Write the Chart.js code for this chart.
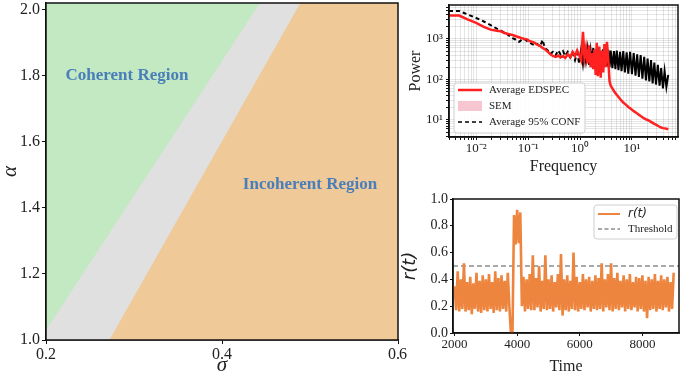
<!DOCTYPE html>
<html>
<head>
<meta charset="utf-8">
<script src="https://cdn.jsdelivr.net/npm/chart.js@4.4.1/dist/chart.umd.min.js"></script>
<style>
  html, body { margin: 0; padding: 0; background: #fff; }
  #wrap { position: relative; width: 685px; height: 380px; overflow: hidden; }
  canvas { position: absolute; }
  #regime { left: 0; top: 0; }
  #spectrum { left: 400px; top: 0; }
  #order { left: 400px; top: 180px; }
  .stray { position: absolute; left: 399px; top: 345px; font: 16px 'Liberation Serif', serif; color: #222; }
</style>
</head>
<body>
<div id="wrap">
  <canvas id="regime" width="400" height="380"></canvas>
  <canvas id="spectrum" width="285" height="180"></canvas>
  <canvas id="order" width="285" height="200"></canvas>
  <div class="stray">6</div>
</div>
<script>
// ---- phase diagram (left) ----
const sigmaTicks = [0.2, 0.4, 0.6];
const alphaTicks = [1.0, 1.2, 1.4, 1.6, 1.8, 2.0];
const sigmaRange = [0.2, 0.6];
const alphaRange = [1.0, 2.02];
const coherentEdgeSigma = [0.2, 0.443];
const coherentEdgeAlpha = [1.03, 2.02];
const incoherentEdgeSigma = [0.272, 0.489];
const incoherentEdgeAlpha = [1.0, 2.02];
const regionNames = ["Coherent Region", "Incoherent Region"];
const regionSigma = [0.292, 0.5];
const regionAlpha = [1.8, 1.47];

// ---- power spectrum (top right) ----
const freq = [0.003, 0.0047, 0.007, 0.01, 0.014, 0.019, 0.025, 0.03, 0.035, 0.04,
  0.045, 0.05, 0.055, 0.06, 0.067, 0.075, 0.085, 0.095, 0.105, 0.12,
  0.135, 0.15, 0.17, 0.19, 0.21, 0.24, 0.27, 0.3, 0.34, 0.38,
  0.42, 0.47, 0.52, 0.58, 0.65, 0.72, 0.8, 0.88, 0.96, 1.05,
  1.14, 1.22, 1.3, 1.4, 1.5, 1.6, 1.7, 1.8, 1.9, 2.0,
  2.1, 2.2, 2.35, 2.5, 2.65, 2.8, 2.95, 3.1, 3.3, 3.5,
  3.7, 3.9, 4.2, 4.5, 4.8, 5.1, 5.5, 5.9, 6.3, 6.8,
  7.3, 7.9, 8.5, 9.2, 10, 10.8, 11.7, 12.6, 13.6, 14.7,
  15.9, 17.2, 18.6, 20, 21.6, 23.3, 25, 27, 29, 31.5,
  34, 36.5, 39.5, 42.5, 46, 50];
const edspec = [3800, 3800, 3000, 2500, 2000, 1700, 1600, 1550, 1400, 1350,
  1300, 1250, 1200, 1150, 1100, 1050, 1000, 980, 900, 850,
  800, 720, 680, 600, 560, 480, 420, 380, 360, 390,
  350, 380, 340, 420, 360, 480, 380, 520, 400, 300,
  1500, 350, 600, 250, 700, 200, 450, 180, 550, 130,
  800, 120, 650, 110, 500, 150, 750, 200, 850, 300,
  90, 70, 60, 52, 46, 42, 37, 33, 30, 27,
  25, 23, 21, 19.5, 18, 16.5, 15.5, 14.5, 13.5, 12.5,
  11.7, 11, 10.4, 10, 9.5, 9, 8.5, 8, 7.7, 7.2,
  6.8, 6.5, 6.3, 6.2, 6.1, 5.9];
const conf95 = [4900, 4900, 4000, 3300, 2700, 2200, 1800, 1600, 1450, 1300,
  1150, 1050, 1000, 900, 850, 950, 1000, 900, 820, 750,
  700, 750, 650, 950, 600, 520, 430, 480, 400, 520,
  420, 500, 380, 480, 350, 450, 300, 450, 260, 550,
  240, 500, 280, 580, 230, 520, 260, 600, 220, 540,
  250, 570, 230, 520, 220, 560, 240, 500, 210, 540,
  200, 520, 190, 500, 180, 520, 170, 480, 160, 500,
  150, 470, 140, 480, 135, 450, 125, 420, 115, 400,
  105, 360, 95, 330, 90, 300, 80, 260, 75, 230,
  70, 190, 60, 160, 65, 130];
const freqTicks = [0.01, 0.1, 1, 10];
const powerTicks = [10, 100, 1000];
const freqRange = [0.003, 77];
const powerRange = [3.8, 6900];

// ---- order parameter (bottom right) ----
const timeStart = 2000;
const timeStep = 50;
const rValues = [
  0.35, 0.17, 0.46, 0.16, 0.40, 0.18, 0.52, 0.16, 0.38, 0.17,
  0.42, 0.14, 0.37, 0.18, 0.45, 0.16, 0.39, 0.15, 0.43, 0.17,
  0.40, 0.16, 0.44, 0.18, 0.38, 0.15, 0.46, 0.17, 0.41, 0.16,
  0.43, 0.18, 0.39, 0.16, 0.45, 0.20, 0.00, 0.00, 0.88, 0.66,
  0.92, 0.67, 0.90, 0.20, 0.42, 0.16, 0.40, 0.18, 0.44, 0.17,
  0.58, 0.17, 0.41, 0.19, 0.50, 0.16, 0.39, 0.18, 0.58, 0.17,
  0.40, 0.18, 0.43, 0.16, 0.38, 0.19, 0.44, 0.17, 0.59, 0.13,
  0.40, 0.17, 0.43, 0.16, 0.39, 0.18, 0.60, 0.17, 0.42, 0.16,
  0.38, 0.18, 0.44, 0.17, 0.40, 0.19, 0.42, 0.16, 0.39, 0.18,
  0.43, 0.17, 0.41, 0.18, 0.52, 0.16, 0.40, 0.19, 0.44, 0.17,
  0.52, 0.16, 0.41, 0.18, 0.45, 0.17, 0.39, 0.19, 0.43, 0.16,
  0.40, 0.18, 0.44, 0.17, 0.38, 0.19, 0.42, 0.16, 0.41, 0.18,
  0.43, 0.16, 0.39, 0.11, 0.42, 0.17, 0.40, 0.18, 0.44, 0.16,
  0.39, 0.18, 0.43, 0.17, 0.40, 0.19, 0.42, 0.16, 0.38, 0.18,
  0.45];
const threshold = 0.5;
const timeTicks = [2000, 4000, 6000, 8000];
const rTicks = [0.0, 0.2, 0.4, 0.6, 0.8, 1.0];
const timeRange = [1950, 9170];

const SERIF = "'Liberation Serif', 'Times New Roman', serif";
const INK = "#222";

function pts(xs, ys) {
  return xs.map((x, i) => ({ x: x, y: ys[i] }));
}

// force an axis to a fixed thickness so the plot boxes line up with the figure
function fixedBox(size) {
  return function (scale) {
    if (scale.isHorizontal()) scale.height = size;
    else scale.width = size;
    scale.paddingLeft = 0;
    scale.paddingRight = 0;
    scale.paddingTop = 0;
    scale.paddingBottom = 0;
  };
}

function setTicks(values) {
  return function (scale) {
    scale.ticks = values.map((v) => ({ value: v }));
  };
}

// decade + minor ticks for the log axes
function logTicks(min, max) {
  return function (scale) {
    const out = [];
    for (let e = Math.floor(Math.log10(min)); e <= Math.ceil(Math.log10(max)); e++) {
      for (let m = 1; m <= 9; m++) {
        const v = m * Math.pow(10, e);
        if (v >= min && v <= max) out.push({ value: v, major: m === 1 });
      }
    }
    scale.ticks = out;
  };
}

const SUP = { "-": "\u207B", "0": "\u2070", "1": "\u00B9", "2": "\u00B2", "3": "\u00B3",
  "4": "\u2074", "5": "\u2075", "6": "\u2076", "7": "\u2077", "8": "\u2078", "9": "\u2079" };

function powLabel(majors) {
  return function (value) {
    const hit = majors.find((m) => Math.abs(m - value) / m < 1e-6);
    if (!hit) return "";
    const e = String(Math.round(Math.log10(hit)));
    return "10" + e.split("").map((c) => SUP[c]).join("");
  };
}

const framePlugin = {
  id: "frame",
  afterDatasetsDraw(chart) {
    const { ctx, chartArea: a } = chart;
    ctx.save();
    ctx.strokeStyle = "#111";
    ctx.lineWidth = 1.5;
    ctx.strokeRect(a.left, a.top, a.right - a.left, a.bottom - a.top);
    ctx.restore();
  },
};

function drawLegendBox(ctx, x, y, w, h) {
  ctx.save();
  ctx.fillStyle = "rgba(255,255,255,0.9)";
  ctx.strokeStyle = "#cfcfcf";
  ctx.lineWidth = 1;
  ctx.beginPath();
  ctx.roundRect(x, y, w, h, 3);
  ctx.fill();
  ctx.stroke();
  ctx.restore();
}

function sample(ctx, x0, x1, y, color, width, dash) {
  ctx.save();
  ctx.strokeStyle = color;
  ctx.lineWidth = width;
  ctx.setLineDash(dash || []);
  ctx.beginPath();
  ctx.moveTo(x0, y);
  ctx.lineTo(x1, y);
  ctx.stroke();
  ctx.restore();
}

// ================= left: phase diagram =================
const regionLabels = {
  id: "regionLabels",
  afterDatasetsDraw(chart) {
    const { ctx, scales } = chart;
    ctx.save();
    ctx.font = "bold 17px " + SERIF;
    ctx.fillStyle = "#4a7ebb";
    ctx.textAlign = "center";
    ctx.textBaseline = "middle";
    regionNames.forEach((name, i) => {
      ctx.fillText(name, scales.x.getPixelForValue(regionSigma[i]), scales.y.getPixelForValue(regionAlpha[i]));
    });
    ctx.restore();
  },
};

new Chart(document.getElementById("regime"), {
  type: "line",
  data: {
    datasets: [
      {
        label: "incoherent",
        data: pts(incoherentEdgeSigma.concat([sigmaRange[1]]), incoherentEdgeAlpha.concat([alphaRange[1]])),
        backgroundColor: "#efc998",
        borderColor: "rgba(0,0,0,0)",
        fill: "start",
      },
      {
        label: "transition",
        data: pts(coherentEdgeSigma.concat([sigmaRange[1]]), coherentEdgeAlpha.concat([alphaRange[1]])),
        backgroundColor: "#dfe0df",
        borderColor: "rgba(0,0,0,0)",
        fill: "start",
      },
      {
        label: "coherent",
        data: pts(sigmaRange, [alphaRange[1], alphaRange[1]]),
        backgroundColor: "#c2e9c1",
        borderColor: "rgba(0,0,0,0)",
        fill: "start",
      },
    ],
  },
  options: {
    responsive: false,
    animation: false,
    devicePixelRatio: 1,
    layout: { padding: { left: 0, right: 2, top: 3, bottom: 0 } },
    elements: { point: { radius: 0 }, line: { borderWidth: 0, tension: 0 } },
    plugins: { legend: { display: false }, tooltip: { enabled: false } },
    scales: {
      x: {
        type: "linear",
        min: sigmaRange[0],
        max: sigmaRange[1],
        afterBuildTicks: setTicks(sigmaTicks),
        afterFit: fixedBox(40),
        grid: { drawOnChartArea: false, tickLength: 4, tickColor: "#111" },
        border: { color: "#111", width: 1.5 },
        ticks: { color: INK, font: { family: SERIF, size: 16 }, padding: 1, maxRotation: 0,
          callback: (v) => v.toFixed(1) },
        title: { display: true, text: "\u03C3", color: INK, padding: { top: 0 },
          font: { family: SERIF, size: 21, style: "italic", lineHeight: 1 } },
      },
      y: {
        type: "linear",
        min: alphaRange[0],
        max: alphaRange[1],
        afterBuildTicks: setTicks(alphaTicks),
        afterFit: fixedBox(46),
        grid: { drawOnChartArea: false, tickLength: 4, tickColor: "#111" },
        border: { color: "#111", width: 1.5 },
        ticks: { color: INK, font: { family: SERIF, size: 16 }, padding: 2,
          callback: (v) => v.toFixed(1) },
        title: { display: true, text: "\u03B1", color: INK, padding: { top: 0 },
          font: { family: SERIF, size: 21, style: "italic", lineHeight: 1 } },
      },
    },
  },
  plugins: [regionLabels, framePlugin],
});

// ================= top right: power spectrum =================
const spectrumLegend = {
  id: "spectrumLegend",
  afterDraw(chart) {
    const ctx = chart.ctx;
    drawLegendBox(ctx, 54, 83, 131, 50);
    sample(ctx, 58, 82, 90, "#ff2020", 2.5);
    ctx.save();
    ctx.fillStyle = "rgba(235,130,150,0.45)";
    ctx.fillRect(58, 101, 24, 10);
    ctx.restore();
    sample(ctx, 58, 82, 122, "#000", 1.5, [4, 3]);
    ctx.save();
    ctx.font = "11px " + SERIF;
    ctx.fillStyle = INK;
    ctx.textBaseline = "middle";
    ctx.fillText("Average EDSPEC", 89, 90);
    ctx.fillText("SEM", 89, 106);
    ctx.fillText("Average 95% CONF", 89, 122);
    ctx.restore();
  },
};

const logGrid = { color: "rgba(0,0,0,0.1)", borderDash: [2, 2], tickLength: 3, tickColor: "#111" };

new Chart(document.getElementById("spectrum"), {
  type: "line",
  data: {
    datasets: [
      {
        label: "Average EDSPEC",
        data: pts(freq, edspec),
        borderColor: "#ff2020",
        borderWidth: 2.5,
      },
      {
        label: "Average 95% CONF",
        data: pts(freq, conf95),
        borderColor: "#000",
        borderWidth: 2,
        borderDash: [4, 3],
        // the dense high-frequency part reads as a solid black band
        segment: { borderDash: (c) => (c.p0.parsed.x >= 0.9 ? [] : undefined) },
      },
    ],
  },
  options: {
    responsive: false,
    animation: false,
    devicePixelRatio: 1,
    layout: { padding: { left: 0, right: 7, top: 5, bottom: 0 } },
    elements: { point: { radius: 0 }, line: { tension: 0 } },
    plugins: { legend: { display: false }, tooltip: { enabled: false } },
    scales: {
      x: {
        type: "logarithmic",
        min: freqRange[0],
        max: freqRange[1],
        afterBuildTicks: logTicks(freqRange[0], freqRange[1]),
        afterFit: fixedBox(43),
        grid: logGrid,
        border: { color: "#111", width: 1.5 },
        ticks: { color: INK, font: { family: SERIF, size: 13 }, padding: 1, maxRotation: 0,
          autoSkip: false, callback: powLabel(freqTicks) },
        title: { display: true, text: "Frequency", color: INK, padding: { top: 4 },
          font: { family: SERIF, size: 16 } },
      },
      y: {
        type: "logarithmic",
        min: powerRange[0],
        max: powerRange[1],
        afterBuildTicks: logTicks(powerRange[0], powerRange[1]),
        afterFit: fixedBox(49),
        grid: logGrid,
        border: { color: "#111", width: 1.5 },
        ticks: { color: INK, font: { family: SERIF, size: 13 }, padding: 3,
          autoSkip: false, callback: powLabel(powerTicks) },
        title: { display: true, text: "Power", color: INK, padding: { top: 6 },
          font: { family: SERIF, size: 16 } },
      },
    },
  },
  plugins: [framePlugin, spectrumLegend],
});

// ================= bottom right: order parameter =================
const orderLegend = {
  id: "orderLegend",
  afterDraw(chart) {
    const ctx = chart.ctx;
    drawLegendBox(ctx, 194, 25, 83, 34);
    sample(ctx, 198, 220, 34, "#ed853e", 2);
    sample(ctx, 198, 220, 49, "#555", 1.2, [4, 2.5]);
    ctx.save();
    ctx.fillStyle = INK;
    ctx.textBaseline = "middle";
    ctx.font = "italic 12px 'DejaVu Sans', sans-serif";
    ctx.fillText("r(t)", 228, 34);
    ctx.font = "11px " + SERIF;
    ctx.fillText("Threshold", 228, 49);
    ctx.restore();
  },
};

const timeAxis = rValues.map((_, i) => timeStart + i * timeStep);

new Chart(document.getElementById("order"), {
  type: "line",
  data: {
    datasets: [
      {
        label: "r(t)",
        data: pts(timeAxis, rValues),
        borderColor: "#ed853e",
        borderWidth: 2.6,
        borderJoinStyle: "miter",
      },
      {
        label: "Threshold",
        data: pts(timeRange, [threshold, threshold]),
        borderColor: "#555",
        borderWidth: 1.2,
        borderDash: [5, 3],
      },
    ],
  },
  options: {
    responsive: false,
    animation: false,
    devicePixelRatio: 1,
    layout: { padding: { left: 0, right: 6, top: 19, bottom: 0 } },
    elements: { point: { radius: 0 }, line: { tension: 0 } },
    plugins: { legend: { display: false }, tooltip: { enabled: false } },
    scales: {
      x: {
        type: "linear",
        min: timeRange[0],
        max: timeRange[1],
        afterBuildTicks: setTicks(timeTicks),
        afterFit: fixedBox(47),
        grid: { drawOnChartArea: false, tickLength: 3, tickColor: "#111" },
        border: { color: "#111", width: 1.5 },
        ticks: { color: INK, font: { family: SERIF, size: 13 }, padding: 1, maxRotation: 0,
          callback: (v) => String(v) },
        title: { display: true, text: "Time", color: INK, padding: { top: 10 },
          font: { family: SERIF, size: 16 } },
      },
      y: {
        type: "linear",
        min: 0,
        max: 1,
        afterBuildTicks: setTicks(rTicks),
        afterFit: fixedBox(53),
        grid: { drawOnChartArea: false, tickLength: 3, tickColor: "#111" },
        border: { color: "#111", width: 1.5 },
        ticks: { color: INK, font: { family: SERIF, size: 14 }, padding: 2,
          callback: (v) => v.toFixed(1) },
        title: { display: true, text: "r(t)", color: INK, padding: { top: 0 },
          font: { family: "'DejaVu Sans', sans-serif", size: 18, style: "italic" } },
      },
    },
  },
  plugins: [framePlugin, orderLegend],
});
</script>
</body>
</html>
